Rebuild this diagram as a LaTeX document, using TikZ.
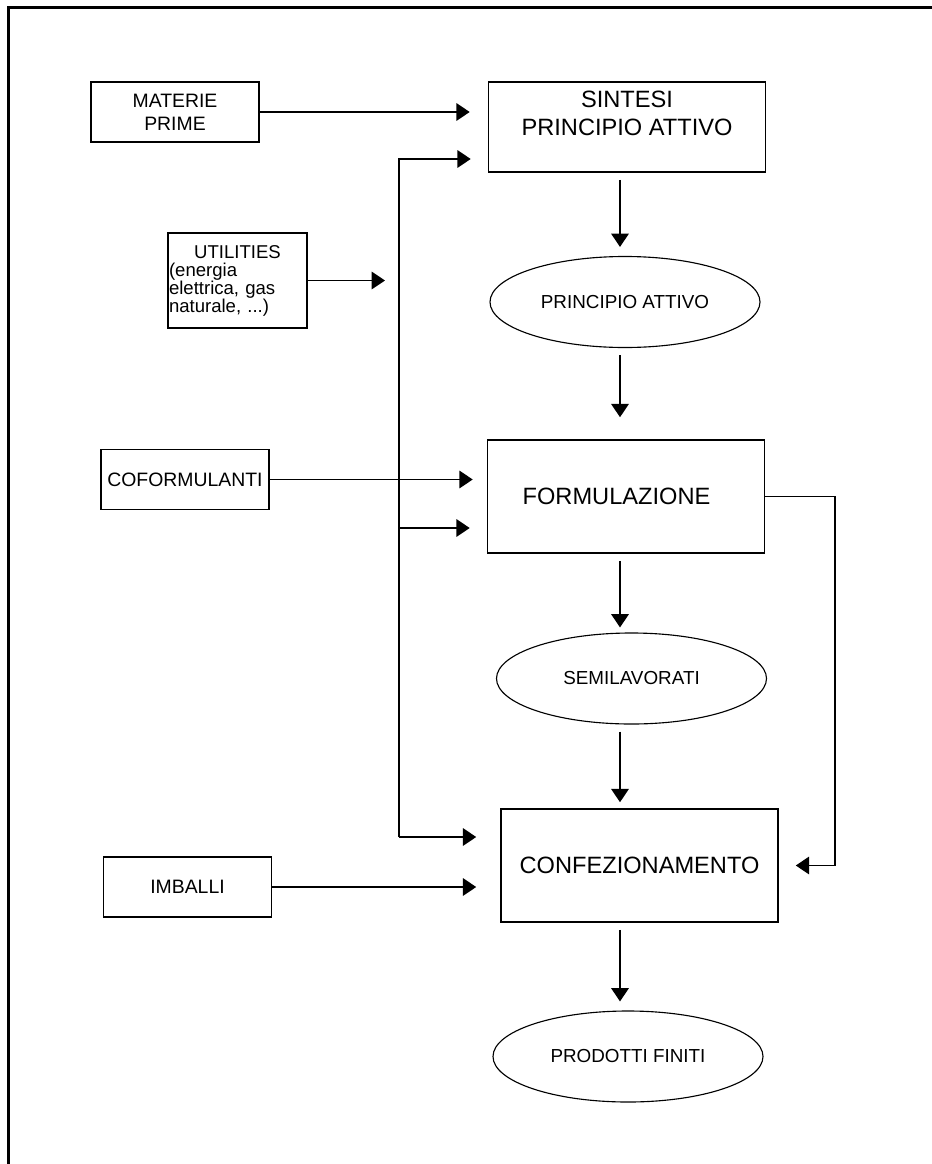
\documentclass[tikz,border=0pt]{standalone}
\usepackage{fontspec}
\setmainfont{Liberation Sans}
\usetikzlibrary{shapes.geometric,arrows.meta}

\newcommand{\pxu}{0.025cm}
\tikzstyle{stage}=[draw,line width=1.1pt,rectangle,align=center,minimum width=277*\pxu,minimum height=113*\pxu,inner sep=0pt,font=\fontsize{16.8}{20}\selectfont]
\tikzstyle{product}=[draw,line width=0.8pt,ellipse,minimum width=270*\pxu,minimum height=91*\pxu,inner sep=0pt,font=\fontsize{13.4}{16}\selectfont]
\tikzstyle{supply}=[draw,line width=1.1pt,rectangle,align=center,minimum width=168*\pxu,minimum height=60*\pxu,inner sep=0pt,font=\fontsize{13.8}{16.4}\selectfont]
\tikzstyle{feed}=[draw,line width=1.1pt,-{Triangle[length=9.5pt,width=12.5pt]},shorten >=17*\pxu]
\tikzstyle{flow}=[feed,shorten <=7*\pxu]

\begin{document}
\begin{tikzpicture}[x=\pxu, y=-\pxu]
    \useasboundingbox (0,0) rectangle (932,1164);
    % Frame (open at right and bottom)
    \draw[line width=1.5pt] (8.5,1164) -- (8.5,7.5) -- (932,7.5);

    % First the stages of the process and what comes out of them
    \node[stage, minimum height=90*\pxu] (sintesi) at (627,127) {SINTESI\\PRINCIPIO ATTIVO\\\mbox{}};
    \node[stage] (formul) at (626,496.5) {FORMULAZIONE\hspace*{0.475cm}};
    \node[stage] (confez) at (639.5,865.5) {CONFEZIONAMENTO};
    \foreach \pos/\name/\what in {{(625,302)/princ/PRINCIPIO ATTIVO}, {(631.5,678.5)/semil/SEMILAVORATI}, {(628,1056.5)/prodotti/PRODOTTI FINITI}}
        \node[product] (\name) at \pos {\what};

    % Then the inputs on the left
    \foreach \pos/\name/\what in {{(175,112)/materie/MATERIE\\PRIME}, {(185,479.5)/cofor/COFORMULANTI}, {(187.5,887)/imballi/IMBALLI}}
        \node[supply] (\name) at \pos {\what};
    \node[supply, minimum width=139*\pxu, minimum height=95*\pxu, text width=137*\pxu, align=left, font=\fontsize{13.2}{12.8}\selectfont] (utilities) at (237.5,280.5)
        {{\centering UTILITIES\par}(energia\\elettrica, gas\\naturale, ...)};

    % Utilities go to every stage along one line
    \coordinate (bustop) at (399,159);
    \coordinate (busmid) at (399,528);
    \coordinate (busbot) at (399,837);
    \path[feed, shorten >=14*\pxu] (utilities) -- (utilities -| bustop);
    \path[feed] (busbot) -- (bustop) -- (bustop -| sintesi.west);
    \path[feed] (busmid) -- (busmid -| formul.west);
    \path[feed, shorten >=24*\pxu] (busbot) -- (busbot -| confez.west);

    % Other inputs
    \path[feed, shorten >=18*\pxu] (materie) -- (materie -| sintesi.west);
    \path[feed, shorten >=14*\pxu] (cofor) -- (cofor -| formul.west);
    \path[feed, shorten >=24*\pxu] (imballi) -- (imballi -| confez.west);

    % Bypass on the right
    \coordinate (bypass) at (835,0);
    \path[feed] (formul.east) -| (bypass |- confez.east) -- (confez.east);

    % Main flow downwards
    \coordinate (axis) at (620,0);
    \foreach \source/\dest/\gap in {sintesi/princ/9, princ/formul/22, formul/semil/5, semil/confez/6, confez/prodotti/9}
        \path[flow, shorten >=\gap*\pxu] (\source.south -| axis) -- (\dest.north -| axis);
\end{tikzpicture}
\end{document}
